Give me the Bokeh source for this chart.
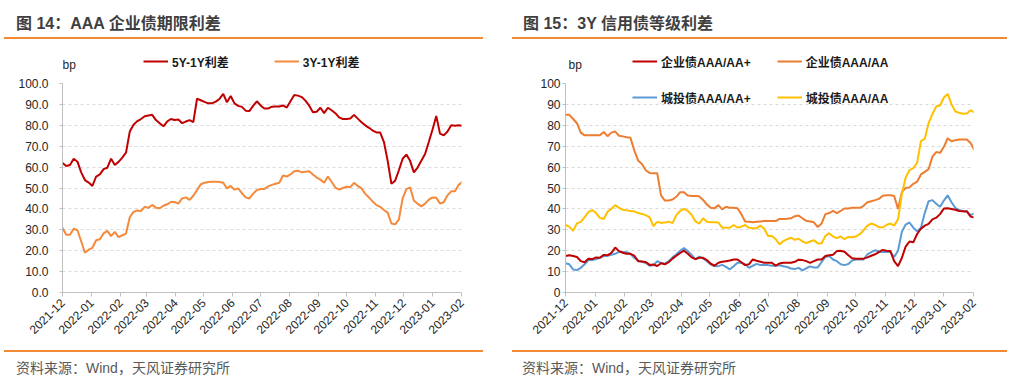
import math
import pandas as pd
from bokeh.plotting import figure
from bokeh.models import (Range1d, FixedTicker, NumeralTickFormatter, DatetimeTickFormatter,
                          Legend, LegendItem, Label, Div)
from bokeh.layouts import row, column
from bokeh.embed import file_html
from bokeh.resources import INLINE

# ---------------- data ----------------
MONTHS = ["2021-12", "2022-01", "2022-02", "2022-03", "2022-04", "2022-05", "2022-06",
          "2022-07", "2022-08", "2022-09", "2022-10", "2022-11", "2022-12", "2023-01", "2023-02"]
START = "2021-12-01"
END = "2023-02-01"
N_POINTS = 108
STEP = "4D"
DATES = pd.date_range(START, periods=N_POINTS, freq=STEP)

# 图14: AAA 企业债期限利差 (bp)
SPREAD_5Y1Y = [62, 60.5, 61, 64, 62.6, 57.5, 53.8, 52.6, 51, 55.5,
               56.5, 59, 59.7, 64, 61, 62.5, 64.5, 67, 77, 80.3,
               82, 83, 84.3, 84.7, 85, 82.5, 81, 79.5, 81.8, 83,
               82.5, 82.8, 81, 81.8, 82.5, 81.5, 92.7, 92, 91.2, 90.5,
               90.5, 91.3, 92.6, 95, 91, 94, 90.5, 89.3, 88.8, 87,
               86.8, 89.3, 91.5, 89.5, 88, 88, 88.9, 89, 89, 89.5,
               88.5, 91.5, 94.5, 94.2, 93.5, 91.8, 89.4, 86.3, 86.5, 88.4,
               85.8, 88.4, 87.2, 85.8, 83.8, 83, 83, 83.3, 85, 83.2,
               81.5, 80, 78.8, 77.5, 76.6, 76.5, 72, 63, 52, 53.5,
               58.5, 64, 66, 63, 57.5, 59.8, 63, 66.3, 72, 78,
               84.5, 76, 75.2, 77, 80, 79.8, 80, 79.8]
SPREAD_3Y1Y = [31, 27.6, 27.6, 30.5, 29.8, 24.5, 19, 20.5, 21.4, 25,
               25.5, 28.3, 29.5, 27, 29, 26.5, 27.4, 28.2, 36, 38.6,
               39.2, 39, 41, 40.5, 41.9, 40.6, 40.3, 41.5, 42.2, 43.3,
               43.3, 42.5, 45, 45.5, 44.3, 46.3, 49, 51.8, 52.5, 52.9,
               53, 53, 52.9, 52.5, 49.8, 51, 49.2, 49.8, 47.5, 45.5,
               45, 47.3, 49, 49.5, 49.5, 50.8, 51.5, 52, 52.5, 56,
               55.5, 56.5, 58, 58.3, 57.5, 57.8, 58, 56.5, 55, 54,
               52.5, 55.5, 53, 50.2, 49.2, 50, 50.6, 50.4, 52.5, 51,
               49.8, 47.2, 45.5, 43.5, 41.8, 41, 39.5, 38.2, 33, 32.6,
               35, 45, 49.5, 50.3, 44, 42.5, 41.2, 42.5, 44.4, 45.5,
               45.3, 42.6, 43.2, 46.5, 48.4, 48.4, 51.5, 53]

# 图15: 3Y 信用债等级利差 (bp)
CORP_AAA_AAP = [17.5, 17.8, 17.5, 17, 15, 14.5, 16.2, 16, 16.8, 16.6,
                18, 17.8, 19, 21.5, 19.8, 19, 18.5, 18.5, 17.6, 15,
                14.8, 14.6, 13.2, 13.4, 12.7, 14, 13.5, 14.5, 16.2, 17.6,
                18.9, 20, 18.5, 16.8, 16, 16.6, 16.6, 15.5, 13.8, 12.8,
                14.2, 14.7, 15, 15.3, 15.8, 15.8, 14.5, 13.1, 13.5, 15.8,
                15.2, 14.7, 14.2, 14.2, 14.2, 12.8, 13.9, 14.2, 14.2, 14.2,
                14.7, 15.7, 15.5, 15, 14.2, 15, 15.8, 15.8, 17.5, 17.8,
                18.1, 19.8, 20, 19.5, 17.8, 16.4, 16.2, 16.2, 16.2, 16.8,
                17.6, 18.3, 19.3, 20.4, 20, 19.8, 15, 12.6, 16.5, 22,
                24.4, 24, 28, 30.5, 32, 32.8, 35, 35.8, 37.5, 40.2,
                40.3, 40, 39.6, 39, 38.9, 38.8, 36.3, 35.8]
CORP_AAA_AA = [85, 85, 83, 81, 76.5, 75.2, 75.2, 75.2, 75.2, 75.2,
               76.8, 74.8, 76.5, 77, 75, 74.7, 74.3, 74, 68, 63.2,
               61.5, 58.5, 57.2, 57.1, 57.1, 46.5, 44, 44, 44.5, 45.8,
               48, 48, 46.4, 46.2, 46.2, 46, 44.3, 42.1, 40.5, 40.3,
               41.8, 39.8, 41, 40.5, 40.5, 40.3, 37.5, 34, 33.8, 33.6,
               33.8, 34, 34.2, 34.2, 34.2, 34.2, 35.2, 35.2, 35.3, 35.5,
               36.5, 36.8, 35.5, 34.3, 34, 33.6, 31.3, 33, 37.5, 38,
               39, 38, 39, 40.2, 40.2, 40.5, 40.5, 40.5, 41.5, 43.2,
               43.7, 44.2, 44.8, 46.3, 46.5, 46.5, 46.2, 40, 48, 50,
               50.3, 52, 53, 56.5, 57.7, 59, 65, 67.2, 66.8, 69.7,
               73.8, 72.4, 72.9, 73.2, 73.2, 73.2, 71.5, 68.1]
LGFV_AAA_AAP = [14, 13.5, 11, 10.7, 11.8, 13.5, 15.5, 15.5, 15.9, 16.6,
                17.4, 17.6, 18, 18.5, 19.4, 19.4, 19.3, 18.5, 16.5, 15.4,
                14.7, 14.1, 12.8, 13, 15, 14.2, 13.7, 15, 16.8, 18.3,
                20, 21.3, 19.8, 18, 15.8, 17.2, 16.3, 15, 13.4, 12.7,
                12.6, 13.2, 12.3, 11.1, 12.6, 14.2, 14.2, 13.5, 11.8, 12.8,
                13.7, 13.1, 13.1, 13.1, 12.8, 12.8, 13, 12.6, 12.2, 11.5,
                11.2, 11.8, 10.6, 11.6, 12.5, 12, 12, 14.5, 17, 17.5,
                15.8, 15, 13.5, 13.1, 13.6, 15.3, 15.8, 15.8, 15.8, 18.3,
                19.3, 20.2, 19.6, 19.4, 19.4, 19.4, 17, 20, 29, 32.5,
                33.5, 31, 29.3, 31, 38, 43.7, 44.2, 42.5, 41, 44,
                46.5, 43.2, 40.4, 39.5, 38.9, 38.9, 37, 37.9]
LGFV_AAA_AA = [32.3, 31.5, 29.5, 33.1, 33.8, 36, 38.5, 39.4, 38, 35.7,
               35.2, 38.6, 40, 41.8, 40.5, 39.6, 39.3, 39, 38.8, 38,
               37.6, 37, 36, 31.8, 33.8, 33.3, 33.5, 33.9, 33.2, 37,
               39, 40, 39, 37.2, 34, 33, 35.5, 33.9, 33.6, 33.6,
               33.5, 31, 31, 31.1, 32.3, 31.1, 31.5, 32.3, 31, 30.8,
               30.8, 32, 30.5, 27, 27, 25.5, 23, 24.6, 25.5, 26.2,
               25.2, 25.7, 24.5, 23.6, 24.4, 25, 23.5, 23.5, 27, 28.4,
               26.8, 26, 26.8, 25.5, 26.6, 26.4, 26.8, 27.9, 29.8, 32,
               33, 32.3, 31.3, 31.1, 32.3, 33, 32, 35, 47, 55,
               58.5, 59.5, 62.1, 72.4, 73.5, 81, 85.4, 89, 89.5, 93.3,
               95, 90, 86.6, 86, 85.5, 85.6, 87.2, 86.1]

Y_TICKS = [0, 10, 20, 30, 40, 50, 60, 70, 80, 90, 100]

TITLE_L = "图 14：AAA 企业债期限利差"
TITLE_R = "图 15：3Y 信用债等级利差"
SOURCE = "资料来源：Wind，天风证券研究所"
UNIT = "bp"

FONT = "Liberation Sans, Noto Sans CJK SC"
CSS_FONT = "'Liberation Sans', 'Noto Sans CJK SC', sans-serif"
RULE = "#F08A35"
PANEL_W = 512
HEAD_H = 45
STRIP_H = 30
CHART_H = 270
FOOT_H = 43
CHART_TOP = 8
CHART_BOTTOM = 53

C_RED = "#C00000"
C_ORANGE_L = "#F58A3D"
C_ORANGE = "#ED7D31"
C_YELLOW = "#FFC000"
C_BLUE = "#5B9BD5"


def header_div(title, title_left, rule_left, rule_width):
    html = (
        f'<div style="position:relative;width:{PANEL_W}px;height:{HEAD_H}px;'
        f'font-family:{CSS_FONT};background:white;">'
        f'<div style="position:absolute;left:{title_left}px;top:15px;font-size:16px;'
        f'line-height:18px;font-weight:bold;color:#3F3F3F;white-space:nowrap;">{title}</div>'
        f'<div style="position:absolute;left:{rule_left}px;top:37px;width:{rule_width}px;'
        f'height:1.5px;background:{RULE};"></div></div>'
    )
    return Div(text=html, width=PANEL_W, height=HEAD_H, margin=0)


def footer_div(text, text_left, rule_left, rule_width):
    html = (
        f'<div style="position:relative;width:{PANEL_W}px;height:{FOOT_H}px;'
        f'font-family:{CSS_FONT};background:white;">'
        f'<div style="position:absolute;left:{rule_left}px;top:5px;width:{rule_width}px;'
        f'height:1.5px;background:{RULE};"></div>'
        f'<div style="position:absolute;left:{text_left}px;top:14px;font-size:14px;'
        f'line-height:18px;color:#595959;white-space:nowrap;">{text}</div></div>'
    )
    return Div(text=html, width=PANEL_W, height=FOOT_H, margin=0)


def strip_fig(bl, br, frame_left_page, frame_right_page):
    p = figure(width=PANEL_W, height=STRIP_H, output_backend="svg", toolbar_location=None,
               x_range=Range1d(frame_left_page, frame_right_page),
               y_range=Range1d(HEAD_H + STRIP_H, HEAD_H),
               x_axis_location=None, y_axis_location=None,
               min_border_left=bl, min_border_right=br,
               min_border_top=0, min_border_bottom=0)
    p.outline_line_color = None
    p.background_fill_color = "white"
    p.border_fill_color = "white"
    p.grid.visible = False
    return p


def make_legend(p, items, loc, spacing):
    leg = Legend(items=[LegendItem(label=lab, renderers=[r]) for lab, r in items],
                 orientation="horizontal", location=loc, spacing=spacing,
                 padding=0, margin=0, glyph_width=25, glyph_height=20,
                 label_standoff=4, border_line_color=None, background_fill_alpha=0,
                 label_text_font=FONT, label_text_font_size="12px",
                 label_text_font_style="bold", label_text_color="#1a1a1a")
    p.add_layout(leg)


def chart_fig(bl, br, yfmt, y_standoff):
    p = figure(width=PANEL_W, height=CHART_H, x_axis_type="datetime",
               output_backend="svg", toolbar_location=None,
               min_border_left=bl, min_border_right=br,
               min_border_top=CHART_TOP, min_border_bottom=CHART_BOTTOM,
               x_range=Range1d(pd.Timestamp(START), pd.Timestamp(END)),
               y_range=Range1d(0, 100))
    p.outline_line_color = None
    p.background_fill_color = "white"
    p.border_fill_color = "white"
    p.xgrid.visible = False
    p.ygrid.grid_line_color = "#D9D9D9"
    p.ygrid.grid_line_dash = "3 3"
    p.ygrid.grid_line_width = 1
    month_ticks = [pd.Timestamp(m + "-01").value / 1e6 for m in MONTHS]
    p.xaxis.ticker = FixedTicker(ticks=month_ticks)
    fmt = "%Y-%m"
    p.xaxis.formatter = DatetimeTickFormatter(
        milliseconds=fmt, seconds=fmt, minsec=fmt, minutes=fmt, hourmin=fmt,
        hours=fmt, days=fmt, months=fmt, years=fmt)
    p.yaxis.ticker = FixedTicker(ticks=Y_TICKS)
    p.yaxis.formatter = NumeralTickFormatter(format=yfmt)
    for ax in (p.xaxis[0], p.yaxis[0]):
        ax.axis_line_color = "#BFBFBF"
        ax.axis_line_width = 1
        ax.major_tick_line_color = "#BFBFBF"
        ax.minor_tick_line_color = None
        ax.major_tick_in = 0
        ax.major_label_text_font = FONT
        ax.major_label_text_font_size = "12px"
        ax.major_label_text_color = "#262626"
    p.xaxis.major_tick_out = 4
    p.yaxis.major_tick_out = 3
    p.xaxis.major_label_orientation = math.pi / 4
    p.xaxis.major_label_standoff = 4
    p.yaxis.major_label_standoff = y_standoff
    return p


def unit_label(p, x):
    p.add_layout(Label(x=x, y=64, text=UNIT, text_align="left", text_baseline="middle",
                       text_font=FONT, text_font_size="12px", text_color="#262626"))


# ---------------- left panel ----------------
L_BL, L_BR = 62, 51
hl = header_div(TITLE_L, 16, 4, 479)
sl = strip_fig(L_BL, L_BR, L_BL, PANEL_W - L_BR)
unit_label(sl, 62)
d1 = sl.line(x=[0], y=[0], line_color=C_RED, line_width=2)
d2 = sl.line(x=[0], y=[0], line_color=C_ORANGE_L, line_width=2)
make_legend(sl, [("5Y-1Y利差", d1), ("3Y-1Y利差", d2)], (81, 4), 45)

cl = chart_fig(L_BL, L_BR, "0.0", 11)
cl.line(DATES, SPREAD_5Y1Y, line_color=C_RED, line_width=2)
cl.line(DATES, SPREAD_3Y1Y, line_color=C_ORANGE_L, line_width=2)

fl = footer_div(SOURCE, 16, 4, 479)

# ---------------- right panel ----------------
R_BL, R_BR = 53, 51
hr = header_div(TITLE_R, 11, 0, 495)
sr = strip_fig(R_BL, R_BR, PANEL_W + R_BL, 2 * PANEL_W - R_BR)
unit_label(sr, PANEL_W + 56)
e1 = sr.line(x=[0], y=[0], line_color=C_RED, line_width=2)
e2 = sr.line(x=[0], y=[0], line_color=C_ORANGE, line_width=2)
make_legend(sr, [("企业债AAA/AA+", e1), ("企业债AAA/AA", e2)], (67, 4), 26)

cr = chart_fig(R_BL, R_BR, "0", 2)
a1 = cr.line(DATES, CORP_AAA_AA, line_color=C_ORANGE, line_width=2)
a2 = cr.line(DATES, LGFV_AAA_AA, line_color=C_YELLOW, line_width=2)
a3 = cr.line(DATES, LGFV_AAA_AAP, line_color=C_BLUE, line_width=2)
a4 = cr.line(DATES, CORP_AAA_AAP, line_color=C_RED, line_width=2)
make_legend(cr, [("城投债AAA/AA+", a3), ("城投债AAA/AA", a2)], (67, 185), 26)

fr = footer_div(SOURCE, 10, 0, 495)

layout = row(column(hl, sl, cl, fl), column(hr, sr, cr, fr))
open("out.html", "w").write(file_html(layout, INLINE))
